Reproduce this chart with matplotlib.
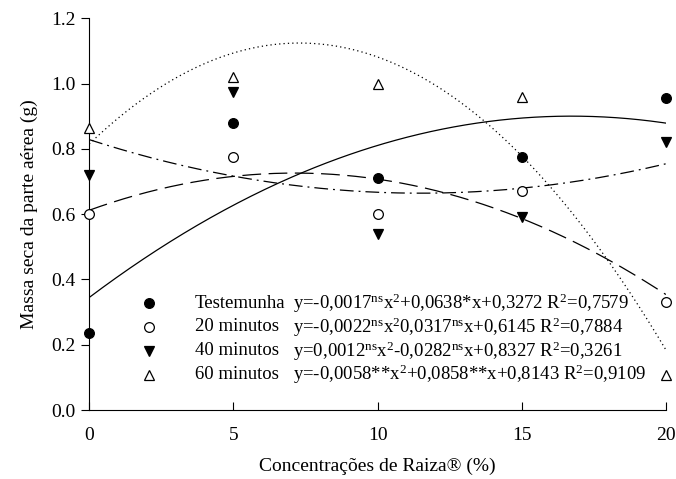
import numpy as np
import matplotlib
matplotlib.use("Agg")
import matplotlib.pyplot as plt

plt.rcParams['font.family'] = ['Liberation Serif', 'DejaVu Serif']
plt.rcParams['mathtext.fontset'] = 'custom'
plt.rcParams['mathtext.rm'] = 'Liberation Serif'
plt.rcParams['mathtext.it'] = 'Liberation Serif'

# Data
conc = [0, 5, 10, 15, 20]
testemunha = [0.235, 0.88, 0.71, 0.775, 0.955]
min20 = [0.60, 0.775, 0.60, 0.67, 0.33]
min40 = [0.72, 0.975, 0.54, 0.59, 0.82]
min60 = [0.865, 1.02, 1.00, 0.96, 0.107]

series_names = ["Testemunha", "20 minutos", "40 minutos", "60 minutos"]
equations = [
    r"y=-0,0017$^{\rm ns}$x$^{2}$+0,0638*x+0,3272 R$^{2}$=0,7579",
    r"y=-0,0022$^{\rm ns}$x$^{2}$0,0317$^{\rm ns}$x+0,6145 R$^{2}$=0,7884",
    r"y=0,0012$^{\rm ns}$x$^{2}$-0,0282$^{\rm ns}$x+0,8327 R$^{2}$=0,3261",
    r"y=-0,0058**x$^{2}$+0,0858**x+0,8143 R$^{2}$=0,9109",
]
xticks = [0, 5, 10, 15, 20]
yticks = [0.0, 0.2, 0.4, 0.6, 0.8, 1.0, 1.2]

fig = plt.figure(figsize=(6.76, 4.79), dpi=100)
ax = fig.add_axes([0.132, 0.144, 0.853, 0.818])

styles = [
    dict(marker='o', mfc='black', ls='-'),
    dict(marker='o', mfc='white', ls=(0, (15, 6))),
    dict(marker='v', mfc='black', ls=(0, (11, 4, 1.5, 4))),
    dict(marker='^', mfc='white', ls=(0, (1, 2.5))),
]
all_series = [testemunha, min20, min40, min60]
xs = np.linspace(0, 20, 300)
for ys, st in zip(all_series, styles):
    coef = np.polyfit(conc, ys, 2)
    ax.plot(xs, np.polyval(coef, xs), color='black', lw=0.9, ls=st['ls'])
    ax.plot(conc, ys, ls='none', marker=st['marker'], mfc=st['mfc'], mec='black',
            mew=0.9, ms=7, clip_on=False, zorder=5)

ax.set_xlim(0, 20)
ax.set_ylim(0, 1.2)
ax.set_xticks(xticks)
ax.set_yticks(yticks)
ax.set_yticklabels([f"{v:.1f}" for v in yticks])
ax.spines['top'].set_visible(False)
ax.spines['right'].set_visible(False)
ax.tick_params(axis='x', direction='in', length=6, labelsize=14, pad=12)
ax.tick_params(axis='y', direction='out', length=6, labelsize=14, pad=4)
ax.set_xlabel("Concentrações de Raiza® (%)", fontsize=14, labelpad=10)
ax.set_ylabel("Massa seca da parte aérea (g)", fontsize=14, labelpad=9)

# Legend drawn manually (marker, name, equation columns)
row_y = [0.273, 0.212, 0.151, 0.090]
x_mark, x_name, x_eq = 0.1036, 0.183, 0.354
for yv, st, name, eq in zip(row_y, styles, series_names, equations):
    ax.plot([x_mark], [yv], transform=ax.transAxes, ls='none', marker=st['marker'],
            mfc=st['mfc'], mec='black', mew=0.9, ms=7, clip_on=False)
    ax.text(x_name, yv, name, transform=ax.transAxes, fontsize=13.5, va='center', ha='left')
    ax.text(x_eq, yv, eq, transform=ax.transAxes, fontsize=13.5, va='center', ha='left')

fig.savefig("out.png", dpi=100)
